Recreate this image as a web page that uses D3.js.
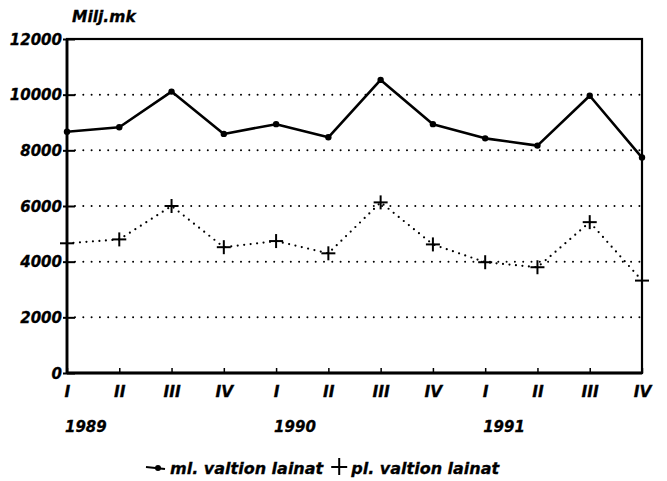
<!DOCTYPE html>
<html>
<head>
<meta charset="utf-8">
<script src="https://cdn.jsdelivr.net/npm/d3@7"></script>
<style>
body{margin:0;background:#fff;}
text{font-family:'DejaVu Sans',sans-serif;font-weight:bold;font-style:italic;fill:#000;stroke:#000;stroke-width:0.3px;}
</style>
</head>
<body>
<svg id="chart" width="667" height="481"></svg>
<script>

//data
var quarters = ['I','II','III','IV','I','II','III','IV','I','II','III','IV'];
var years = ['1989','1990','1991'];
var ml = [8670, 8830, 10110, 8590, 8940, 8470, 10530, 8940, 8430, 8170, 9960, 7740];
var pl = [4660, 4800, 6000, 4520, 4740, 4300, 6130, 4620, 3980, 3800, 5420, 3320];
var yTicks = [0, 2000, 4000, 6000, 8000, 10000, 12000];

//plot box (window.top is taken, so own names)
var pLeft = 67, pRight = 642, pTop = 39, pBottom = 373;

var svg = d3.select('#chart');

var x = d3.scalePoint()
			.domain(d3.range(quarters.length))
			.range([pLeft, pRight]);

var y = d3.scaleLinear()
			.domain([0, 12000])
			.range([pBottom, pTop]);

//grid lines
svg.append('g')
	.selectAll('line')
	.data(yTicks.filter(function(d){ return d > 0 && d < 12000 }))
	.enter()
	.append('line')
	.attr('x1', pLeft + 8)
	.attr('x2', pRight)
	.attr('y1', function(d){ return y(d) })
	.attr('y2', function(d){ return y(d) })
	.attr('stroke', '#000')
	.attr('stroke-width', 2)
	.attr('stroke-linecap', 'round')
	.attr('stroke-dasharray', '0,8.3');

//y axis
var yAxis = d3.axisLeft(y)
				.tickValues(yTicks)
				.tickSizeInner(-8)
				.tickSizeOuter(0)
				.tickPadding(5)
				.tickFormat(d3.format('d'));

var gy = svg.append('g')
			.attr('transform', 'translate(' + pLeft + ',0)')
			.call(yAxis);
gy.select('.domain').remove();
gy.selectAll('line').attr('stroke-width', 2).attr('x1', -4);
gy.selectAll('text').style('font-size', '15px').attr('x', -5).attr('dy', '0.35em');

//x axis (ticks pointing up)
var xAxis = d3.axisBottom(x)
				.tickSize(-5)
				.tickPadding(13)
				.tickFormat(function(d){ return quarters[d] });

var gx = svg.append('g')
			.attr('transform', 'translate(0,' + pBottom + ')')
			.call(xAxis);
gx.select('.domain').remove();
gx.selectAll('line').attr('stroke-width', 1.5);
gx.selectAll('text').style('font-size', '15.5px').attr('dy', '0.71em');

//year labels
svg.selectAll('.year')
	.data(years)
	.enter()
	.append('text')
	.attr('class', 'year')
	.attr('x', function(d,i){ return x(i*4) - 2 })
	.attr('y', 432)
	.style('font-size', '15px')
	.text(function(d){ return d });

//frame
svg.append('rect')
	.attr('x', pLeft)
	.attr('y', pTop)
	.attr('width', pRight - pLeft)
	.attr('height', pBottom - pTop)
	.attr('fill', 'none')
	.attr('stroke', '#000')
	.attr('stroke-width', 2.2);
svg.append('line')
	.attr('x1', pLeft).attr('x2', pRight)
	.attr('y1', pBottom).attr('y2', pBottom)
	.attr('stroke', '#000')
	.attr('stroke-width', 3);
svg.append('line')
	.attr('x1', pLeft).attr('x2', pLeft)
	.attr('y1', pTop).attr('y2', pBottom)
	.attr('stroke', '#000')
	.attr('stroke-width', 2.8);

//unit label
svg.append('text')
	.attr('x', 72)
	.attr('y', 22)
	.style('font-size', '15.5px')
	.text('Milj.mk');

var line = d3.line()
			.x(function(d,i){ return x(i) })
			.y(function(d){ return y(d) });

//ml series: solid with dots
svg.append('path')
	.datum(ml)
	.attr('d', line)
	.attr('fill', 'none')
	.attr('stroke', '#000')
	.attr('stroke-width', 2.6)
	.attr('stroke-linejoin', 'round');

svg.selectAll('.dot')
	.data(ml)
	.enter()
	.append('circle')
	.attr('class', 'dot')
	.attr('cx', function(d,i){ return x(i) })
	.attr('cy', function(d){ return y(d) })
	.attr('r', 3.2)
	.attr('fill', '#000');

//pl series: dotted with plus markers
svg.append('path')
	.datum(pl)
	.attr('d', line)
	.attr('fill', 'none')
	.attr('stroke', '#000')
	.attr('stroke-width', 2.2)
	.attr('stroke-linecap', 'round')
	.attr('stroke-dasharray', '0,6.5');

svg.selectAll('.plus')
	.data(pl)
	.enter()
	.append('g')
	.attr('class', 'plus')
	.attr('transform', function(d,i){ return 'translate(' + x(i) + ',' + y(d) + ')' })
	.each(function(){
		var g = d3.select(this);
		g.append('line').attr('x1', -7).attr('x2', 7).attr('stroke', '#000').attr('stroke-width', 2);
		g.append('line').attr('y1', -7).attr('y2', 7).attr('stroke', '#000').attr('stroke-width', 2);
	});

//legend
var legend = svg.append('g').attr('transform', 'translate(0,474)');

legend.append('line')
	.attr('x1', 146).attr('x2', 165)
	.attr('y1', -7).attr('y2', -5)
	.attr('stroke', '#000')
	.attr('stroke-width', 2.2);
legend.append('circle')
	.attr('cx', 158).attr('cy', -6)
	.attr('r', 3)
	.attr('fill', '#000');
var t1 = legend.append('text')
	.attr('x', 170)
	.attr('y', 0)
	.style('font-size', '16px')
	.text('ml. valtion lainat');

//place the plus marker after the first label
var px = 170 + t1.node().getComputedTextLength() + 16;
legend.append('line')
	.attr('x1', px - 8).attr('x2', px + 8)
	.attr('y1', -7).attr('y2', -7)
	.attr('stroke', '#000')
	.attr('stroke-width', 2);
legend.append('line')
	.attr('x1', px).attr('x2', px)
	.attr('y1', -16).attr('y2', 1)
	.attr('stroke', '#000')
	.attr('stroke-width', 2);
legend.append('text')
	.attr('x', px + 12)
	.attr('y', 0)
	.style('font-size', '16px')
	.text('pl. valtion lainat');

</script>
</body>
</html>
